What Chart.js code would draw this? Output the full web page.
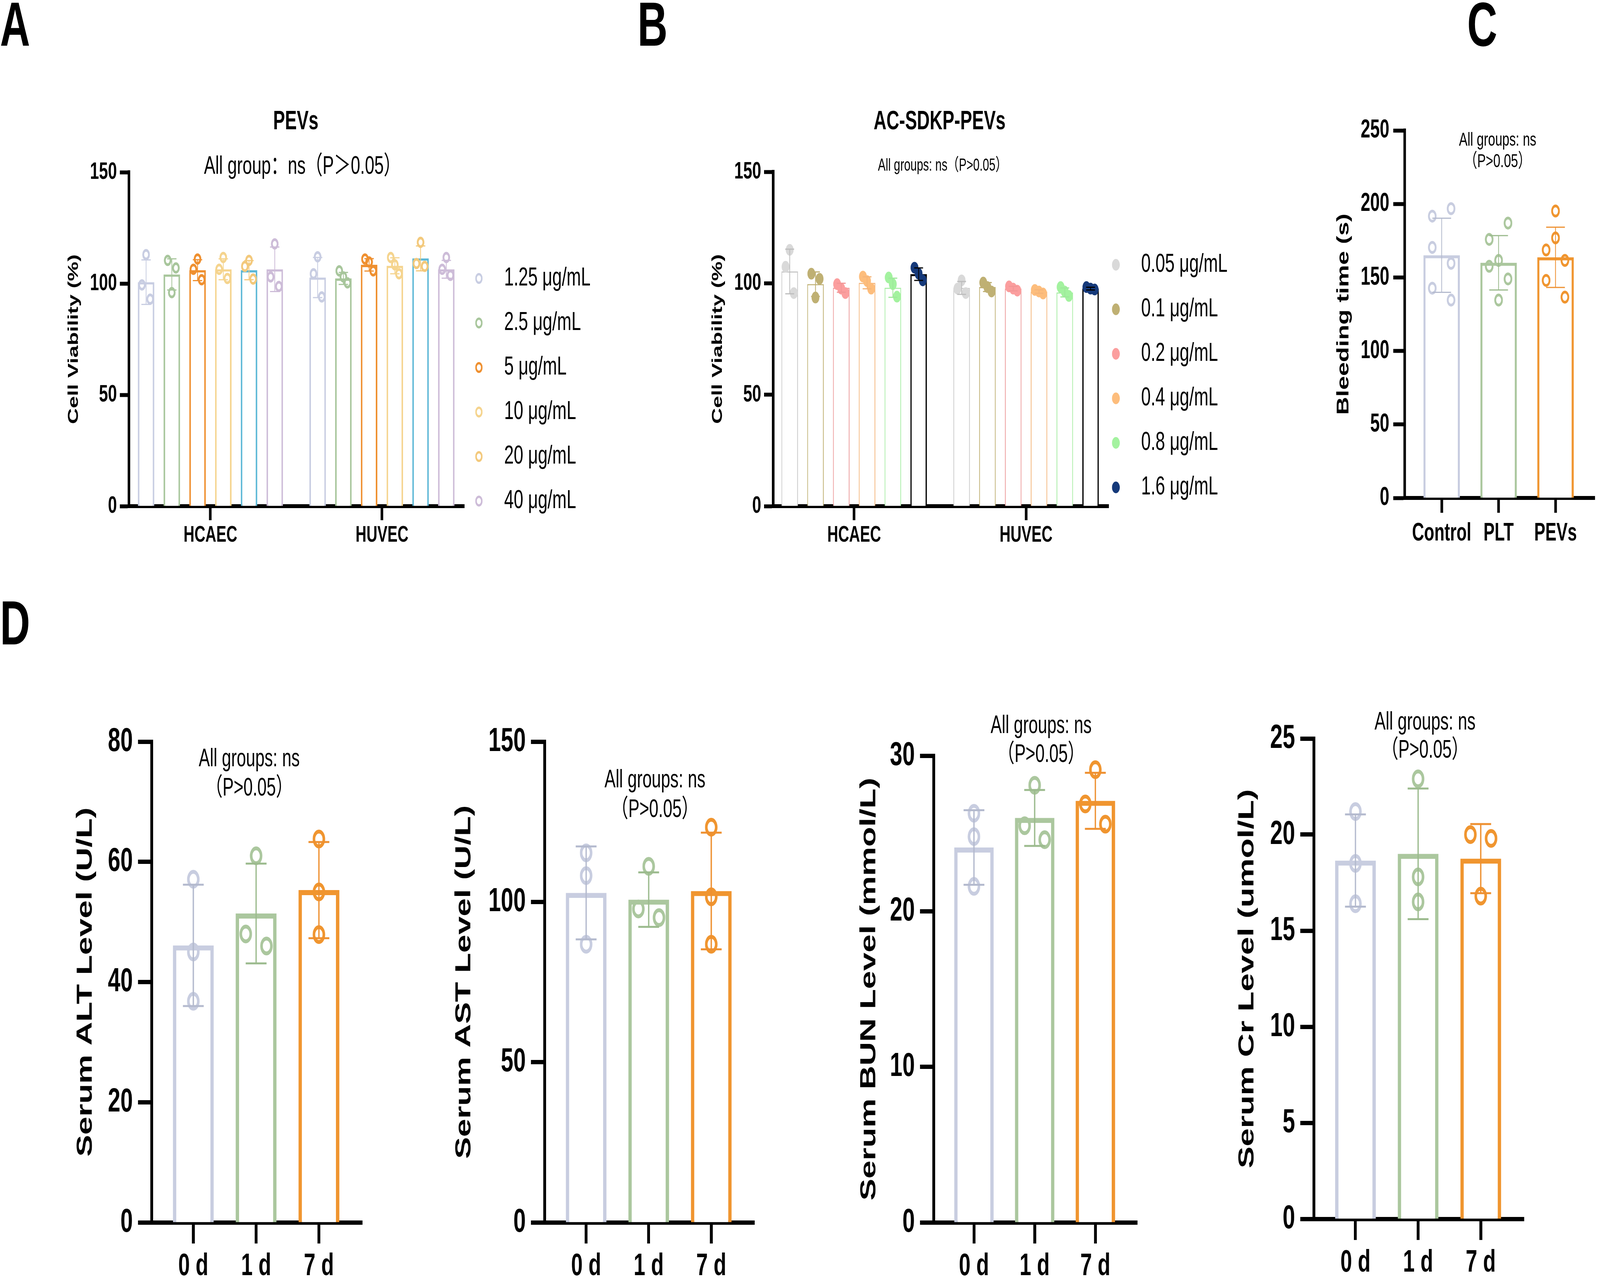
<!DOCTYPE html>
<html>
<head>
<meta charset="utf-8">
<script src="https://cdn.jsdelivr.net/npm/chart.js@4.4.1/dist/chart.umd.min.js"></script>
<style>
  html, body { margin: 0; padding: 0; background: #fff; overflow: hidden; }
  #wrap { position: relative; overflow: hidden; background: #fff; }
  #page { position: absolute; left: 0; top: 0; width: 6144px; height: 3280px; transform-origin: 0 0;
          font-family: 'Liberation Sans', 'Noto Sans CJK SC', sans-serif; color: #000; background: #fff; }
  canvas { position: absolute; z-index: 1; }
  .txt { position: absolute; z-index: 2; white-space: nowrap; line-height: 1; transform: translate(-50%, -50%); }
  .letter { position: absolute; z-index: 2; font-weight: bold; font-size: 160px; line-height: 1; transform: translate(0, -50%); }
</style>
</head>
<body>
<div id="wrap">
<div id="page">
<div class="letter" style="left:0px; top:62px">A</div>
<div class="letter" style="left:2448px; top:62px">B</div>
<div class="letter" style="left:5634px; top:62px">C</div>
<div class="letter" style="left:0px; top:1595px">D</div>

<div class="txt" style="left:1136px; top:307px; font-size:68px; font-weight:bold">PEVs</div>
<div class="txt" style="left:1161px; top:422px; font-size:65px">All group：ns（P＞0.05）</div>
<div class="txt" style="left:3608px; top:307px; font-size:68px; font-weight:bold">AC-SDKP-PEVs</div>
<div class="txt" style="left:3619px; top:422px; font-size:44px">All groups: ns（P&gt;0.05）</div>
<div class="txt" style="left:5751px; top:356px; font-size:49px">All groups: ns</div>
<div class="txt" style="left:5751px; top:411px; font-size:49px">（P&gt;0.05）</div>
<div class="txt" style="left:957px; top:1940px; font-size:64px">All groups: ns</div>
<div class="txt" style="left:957px; top:2015px; font-size:64px">（P&gt;0.05）</div>
<div class="txt" style="left:2515px; top:1994px; font-size:64px">All groups: ns</div>
<div class="txt" style="left:2515px; top:2070px; font-size:64px">（P&gt;0.05）</div>
<div class="txt" style="left:3998px; top:1855px; font-size:64px">All groups: ns</div>
<div class="txt" style="left:3998px; top:1929px; font-size:64px">（P&gt;0.05）</div>
<div class="txt" style="left:5472px; top:1846px; font-size:64px">All groups: ns</div>
<div class="txt" style="left:5472px; top:1918px; font-size:64px">（P&gt;0.05）</div>
</div>
</div>

<script>
// ---------- A: PEVs 细胞活力 ----------
const aGroups = ['HCAEC', 'HUVEC'];
const aDoses = ['1.25 μg/mL', '2.5 μg/mL', '5 μg/mL', '10 μg/mL', '20 μg/mL', '40 μg/mL'];
const aYTicks = [0, 50, 100, 150];
// 每个浓度: [HCAEC, HUVEC]
const aMeans = [[100.6, 102.7], [104.1, 102.3], [106.0, 108.4], [106.4, 108.0], [106.0, 111.3], [106.4, 106.4]];
const aSD = [[10.0, 9.0], [7.0, 2.7], [4.7, 2.8], [4.7, 3.6], [4.3, 5.6], [10.0, 4.0]];
const aPoints = [
  [[113.0, 99.4, 93.0], [112.0, 104.4, 94.0]],
  [[95.9, 110.4, 107.0], [103.0, 105.7, 100.3]],
  [[111.0, 106.4, 101.7], [109.7, 111.0, 105.7]],
  [[111.7, 106.4, 102.3], [108.4, 111.7, 104.4]],
  [[110.4, 107.7, 102.0], [118.5, 109.0, 107.7]],
  [[117.8, 103.0, 98.7], [111.7, 106.4, 103.7]]
];

// ---------- B: AC-SDKP-PEVs 细胞活力 ----------
const bGroups = ['HCAEC', 'HUVEC'];
const bDoses = ['0.05 μg/mL', '0.1 μg/mL', '0.2 μg/mL', '0.4 μg/mL', '0.8 μg/mL', '1.6 μg/mL'];
const bYTicks = [0, 50, 100, 150];
const bMeans = [[105.3, 97.9], [99.6, 98.3], [98.0, 97.6], [100.2, 96.3], [98.0, 95.9], [104.1, 97.6]];
const bSD = [[10.0, 2.9], [5.5, 2.0], [2.0, 1.0], [2.7, 0.8], [4.3, 2.0], [2.8, 0.6]];
const bPoints = [
  [[115.0, 107.4, 95.6], [101.3, 97.6, 95.6]],
  [[93.6, 104.3, 102.0], [98.3, 100.3, 96.3]],
  [[97.6, 99.6, 95.6], [97.6, 98.6, 96.7]],
  [[101.0, 103.0, 97.6], [96.3, 97.0, 95.4]],
  [[99.6, 102.6, 94.0], [96.3, 98.3, 94.3]],
  [[104.3, 107.0, 101.3], [97.6, 98.3, 97.2]]
];

// ---------- C: 出血时间 ----------
const cGroups = ['Control', 'PLT', 'PEVs'];
const cYTicks = [0, 50, 100, 150, 200, 250];
const cMeans = [165.1, 160.0, 163.7];
const cSD = [25.2, 18.5, 20.5];
const cPoints = [
  [191.7, 196.8, 170.4, 159.6, 142.7, 134.6],
  [175.9, 157.6, 161.6, 134.6, 187.0, 149.0],
  [195.2, 176.9, 168.7, 148.0, 161.6, 136.6]
];

// ---------- D: 血清生化 ----------
const dGroups = ['0 d', '1 d', '7 d'];
const altTicks = [0, 20, 40, 60, 80];
const altMeans = [46.1, 51.4, 55.3];
const altSD = [10.1, 8.3, 8.0];
const altPoints = [[57.1, 45.0, 36.8], [61.0, 48.0, 46.0], [63.8, 55.0, 47.9]];
const astTicks = [0, 50, 100, 150];
const astMeans = [102.8, 100.7, 103.4];
const astSD = [14.5, 8.5, 18.2];
const astPoints = [[115.3, 108.2, 86.8], [111.1, 97.8, 95.1], [123.3, 101.6, 86.8]];
const bunTicks = [0, 10, 20, 30];
const bunMeans = [24.1, 26.0, 27.1];
const bunSD = [2.4, 1.8, 1.8];
const bunPoints = [[26.3, 24.8, 21.6], [28.1, 25.5, 24.6], [29.1, 26.9, 25.6]];
const crTicks = [0, 5, 10, 15, 20, 25];
const crMeans = [18.65, 19.0, 18.75];
const crSD = [2.4, 3.4, 1.8];
const crPoints = [[21.2, 18.5, 16.4], [22.9, 17.8, 16.5], [20.0, 19.8, 16.8]];

// ---------- 样式 ----------
const FONT = "'Liberation Sans', 'Noto Sans CJK SC', sans-serif";
Chart.defaults.font.family = FONT;
Chart.defaults.color = '#000';

// 设计稿 6144 x 3280，铺满实际窗口
const wrap = document.getElementById('wrap');
const page = document.getElementById('page');
const VW = window.innerWidth, VH = window.innerHeight;
page.style.transform = 'scale(' + (VW / 6144) + ',' + (VH / 3280) + ')';
wrap.style.width = VW + 'px';
wrap.style.height = VH + 'px';

const aBarColors = ['#c8cde2', '#a8c69c', '#ef9030', '#f5d48e', '#5bb7d6', '#cdbcd8'];
const aDotColors = ['#c8cde2', '#a8c69c', '#ef9030', '#f5d48e', '#f3c97c', '#cdbcd8'];
const bBarColors = ['#c9c9c9', '#bfb073', '#ec9a9a', '#f4b57a', '#a7eda4', '#000000'];
const bDotColors = ['#d9d9d9', '#bfb073', '#fb9e9e', '#fdbd7c', '#a3f29f', '#15397a'];
const bErrColors = ['#bdbdbd', '#bfb073', '#f29696', '#f5b57a', '#9ee89b', '#000000'];
const bBarWidths = [3, 3, 3, 3, 3, 5];
const triColors = ['#c8cde0', '#abc79e', '#f0952f'];
const triErr = ['#b4bace', '#9cbb8e', '#ee9030'];

const CAT_PCT = 0.9;                 // A/B 分组柱宽占比
const GROUP_JIT = [0, -0.024, 0.024]; // A/B 点的横向抖动
const C_JIT = [[-1, 1, -1, 1, -1, 1], [-1, -1, 0, 0, 1, 1], [0, 0, -1, -1, 1, 1]];
const ALT_JIT = [[0, 0, 0], [0, -1, 1], [0, 0, 0]];
const AST_JIT = [[0, 0, 0], [0, -1, 1], [0, 0, 0]];
const BUN_JIT = [[0, 0, 0], [0, -1, 1], [0, -1, 1]];
const CR_JIT = [[0, 0, 0], [0, 0, 0], [-1, 1, 0]];

// 误差线 (均值 ± SD)
const errorBars = {
  id: 'errorBars',
  afterDatasetsDraw(chart, args, o) {
    const {ctx} = chart;
    const y = chart.scales.y;
    chart.data.datasets.forEach((ds, i) => {
      if (!ds.sd) return;
      const meta = chart.getDatasetMeta(i);
      meta.data.forEach((bar, j) => {
        const m = ds.data[j].y, s = ds.sd[j];
        const top = y.getPixelForValue(m + s), bot = y.getPixelForValue(m - s);
        ctx.save();
        ctx.strokeStyle = Array.isArray(ds.errColor) ? ds.errColor[j] : ds.errColor;
        ctx.lineWidth = o.width;
        ctx.beginPath();
        ctx.moveTo(bar.x, top); ctx.lineTo(bar.x, bot);
        ctx.moveTo(bar.x - o.cap, top); ctx.lineTo(bar.x + o.cap, top);
        ctx.moveTo(bar.x - o.cap, bot); ctx.lineTo(bar.x + o.cap, bot);
        ctx.stroke();
        ctx.restore();
      });
    });
  }
};

// 右侧图例
const sideLegend = {
  id: 'sideLegend',
  afterDraw(chart, args, o) {
    if (!o || !o.labels) return;
    const {ctx, chartArea} = chart;
    const n = o.labels.length;
    ctx.save();
    ctx.font = o.fontSize + 'px ' + FONT;
    ctx.textBaseline = 'middle';
    ctx.textAlign = 'left';
    for (let i = 0; i < n; i++) {
      const cy = chartArea.bottom - o.bottom - (n - 1 - i) * o.step;
      const cx = chartArea.right + o.markerX;
      ctx.beginPath();
      ctx.arc(cx, cy, o.radius, 0, Math.PI * 2);
      if (o.filled) { ctx.fillStyle = o.colors[i]; ctx.fill(); }
      else { ctx.strokeStyle = o.colors[i]; ctx.lineWidth = o.borderWidth; ctx.stroke(); }
      ctx.fillStyle = '#000';
      ctx.fillText(o.labels[i], chartArea.right + o.textX, cy);
    }
    ctx.restore();
  }
};

function yAxis(ticks, title, o) {
  return {
    min: ticks[0], max: ticks[ticks.length - 1],
    afterBuildTicks: s => { s.ticks = ticks.map(v => ({value: v})); },
    afterFit: s => { s.width = o.width; },
    ticks: {color: '#000', font: {size: o.tickSize, weight: 'bold'}, padding: o.tickPad},
    grid: {drawOnChartArea: false, drawTicks: true, tickLength: o.tickLen, tickWidth: o.line, tickColor: '#000'},
    border: {display: true, width: o.line, color: '#000'},
    title: {display: true, text: title, color: '#000', font: {size: o.titleSize, weight: 'bold'},
            padding: {top: o.titlePad, bottom: 0}}
  };
}

function xAxis(groups, o) {
  return {
    type: 'linear', min: o.min, max: o.max, offset: false,
    afterBuildTicks: s => { s.ticks = groups.map((g, i) => ({value: i})); },
    afterFit: s => { s.height = o.height; },
    ticks: {callback: v => groups[v], autoSkip: false, maxRotation: 0, color: '#000',
            font: {size: o.tickSize, weight: 'bold'}, padding: o.tickPad},
    grid: {offset: false, drawOnChartArea: false, drawTicks: true, tickLength: o.tickLen,
           tickWidth: o.line, tickColor: '#000'},
    border: {display: true, width: o.line, color: '#000'}
  };
}

function makeChart(box, datasets, scales, plugOpts) {
  const c = document.createElement('canvas');
  c.style.left = box.x + 'px'; c.style.top = box.y + 'px';
  c.style.width = box.w + 'px'; c.style.height = box.h + 'px';
  c.width = box.w; c.height = box.h;
  page.appendChild(c);
  return new Chart(c, {
    type: 'bar',
    data: {datasets},
    options: {
      responsive: false, animation: false, events: [], devicePixelRatio: 1,
      layout: {padding: box.pad},
      scales,
      plugins: Object.assign({legend: {display: false}, tooltip: {enabled: false}}, plugOpts)
    },
    plugins: [errorBars, sideLegend]
  });
}

// 分组柱图 (A / B)
function groupedSets(groups, doses, means, sd, points, st) {
  const bars = doses.map((dose, d) => ({
    type: 'bar', label: dose, order: 1,
    data: groups.map((g, gi) => ({x: gi, y: means[d][gi]})),
    sd: sd[d], errColor: st.errColors[d],
    backgroundColor: '#fff', borderColor: st.barColors[d], borderWidth: st.barWidths[d],
    categoryPercentage: CAT_PCT, barPercentage: 0.64
  }));
  const dots = doses.map((dose, d) => ({
    type: 'line', label: dose + ' pts', order: 0, showLine: false, clip: false,
    data: groups.flatMap((g, gi) => points[d][gi].map((v, k) => ({
      x: gi + CAT_PCT * (d - (doses.length - 1) / 2) / doses.length + GROUP_JIT[k], y: v}))),
    pointRadius: st.radius, pointBorderWidth: st.dotBorder,
    pointBackgroundColor: st.filled ? st.dotColors[d] : 'rgba(0,0,0,0)',
    pointBorderColor: st.dotColors[d]
  }));
  return bars.concat(dots);
}

// 单组柱图 (C / D)
function simpleSets(groups, means, sd, points, jit, st) {
  const bars = [{
    type: 'bar', order: 1,
    data: groups.map((g, i) => ({x: i, y: means[i]})),
    sd: sd, errColor: triErr,
    backgroundColor: '#fff', borderColor: triColors, borderWidth: st.barWidth,
    categoryPercentage: st.barPct, barPercentage: 1
  }];
  const dots = groups.map((g, i) => ({
    type: 'line', order: 0, showLine: false, clip: false,
    data: points[i].map((v, k) => ({x: i + jit[i][k] * 0.165, y: v})),
    pointRadius: st.radius, pointBorderWidth: st.dotBorder,
    pointBackgroundColor: 'rgba(0,0,0,0)', pointBorderColor: triColors[i]
  }));
  return bars.concat(dots);
}

// ---- A ----
makeChart(
  {x: 200, y: 381, w: 2143, h: 1045, pad: {top: 60, right: 560, left: 0, bottom: 0}},
  groupedSets(aGroups, aDoses, aMeans, aSD, aPoints,
    {barColors: aBarColors, dotColors: aDotColors, errColors: aDotColors, barWidths: [6, 6, 6, 6, 6, 6],
     radius: 11, dotBorder: 7, filled: false}),
  {
    x: xAxis(aGroups, {min: -0.475, max: 1.48, height: 130, tickSize: 58, tickPad: 4, tickLen: 36, line: 10}),
    y: yAxis(aYTicks, 'Cell Viability (%)', {width: 295, tickSize: 62, tickPad: 11, tickLen: 35, line: 10, titleSize: 56, titlePad: 50})
  },
  {errorBars: {width: 3, cap: 18},
   sideLegend: {labels: aDoses, colors: aDotColors, filled: false, radius: 11, borderWidth: 6,
                markerX: 56, textX: 153, bottom: 13, step: 114, fontSize: 66}}
);

// ---- B ----
makeChart(
  {x: 2650, y: 380, w: 2150, h: 1046, pad: {top: 60, right: 543, left: 0, bottom: 0}},
  groupedSets(bGroups, bDoses, bMeans, bSD, bPoints,
    {barColors: bBarColors, dotColors: bDotColors, errColors: bErrColors, barWidths: bBarWidths,
     radius: 15, dotBorder: 0, filled: true}),
  {
    x: xAxis(bGroups, {min: -0.471, max: 1.48, height: 130, tickSize: 58, tickPad: 4, tickLen: 36, line: 10}),
    y: yAxis(bYTicks, 'Cell Viability (%)', {width: 319, tickSize: 62, tickPad: 11, tickLen: 35, line: 10, titleSize: 56, titlePad: 73})
  },
  {errorBars: {width: 3, cap: 17},
   sideLegend: {labels: bDoses, colors: bDotColors, filled: true, radius: 15, borderWidth: 0,
                markerX: 28, textX: 125, bottom: 48, step: 114, fontSize: 66}}
);

// ---- C ----
makeChart(
  {x: 5080, y: 274, w: 1064, h: 1131, pad: {top: 60, right: 10, left: 0, bottom: 0}},
  simpleSets(cGroups, cMeans, cSD, cPoints, C_JIT, {barWidth: 8, barPct: 0.64, radius: 13, dotBorder: 7}),
  {
    x: xAxis(cGroups, {min: -0.65, max: 2.69, height: 130, tickSize: 64, tickPad: 15, tickLen: 38, line: 10}),
    y: yAxis(cYTicks, 'Bleeding time (s)', {width: 314, tickSize: 66, tickPad: 15, tickLen: 44, line: 10, titleSize: 64, titlePad: 42})
  },
  {errorBars: {width: 3, cap: 36}}
);

// ---- D ----
const dBoxes = [
  {x: 200, y: 1819, w: 1220, h: 1461, pad: {top: 80, right: 10, left: 0, bottom: 0}},
  {x: 1700, y: 1819, w: 1226, h: 1461, pad: {top: 80, right: 10, left: 0, bottom: 0}},
  {x: 3250, y: 1855, w: 1146, h: 1425, pad: {top: 80, right: 10, left: 0, bottom: 0}},
  {x: 4700, y: 1811, w: 1181, h: 1460, pad: {top: 80, right: 10, left: 0, bottom: 0}}
];
const dPanels = [
  {ticks: altTicks, title: 'Serum ALT Level (U/L)', means: altMeans, sd: altSD, pts: altPoints, jit: ALT_JIT, yw: 382, tp: 78},
  {ticks: astTicks, title: 'Serum AST Level (U/L)', means: astMeans, sd: astSD, pts: astPoints, jit: AST_JIT, yw: 391, tp: 32},
  {ticks: bunTicks, title: 'Serum BUN Level (mmol/L)', means: bunMeans, sd: bunSD, pts: bunPoints, jit: BUN_JIT, yw: 335, tp: 37},
  {ticks: crTicks, title: 'Serum Cr Level (umol/L)', means: crMeans, sd: crSD, pts: crPoints, jit: CR_JIT, yw: 345, tp: 39}
];
dPanels.forEach((p, i) => {
  makeChart(
    dBoxes[i],
    simpleSets(dGroups, p.means, p.sd, p.pts, p.jit, {barWidth: 13, barPct: 0.65, radius: 19, dotBorder: 10}),
    {
      x: xAxis(dGroups, {min: -0.665, max: 2.69, height: 150, tickSize: 80, tickPad: 11, tickLen: 54, line: 11}),
      y: yAxis(p.ticks, p.title, {width: p.yw, tickSize: 86, tickPad: 20, tickLen: 52, line: 11, titleSize: 84, titlePad: p.tp})
    },
    {errorBars: {width: 5, cap: 40}}
  );
});
</script>
</body>
</html>
